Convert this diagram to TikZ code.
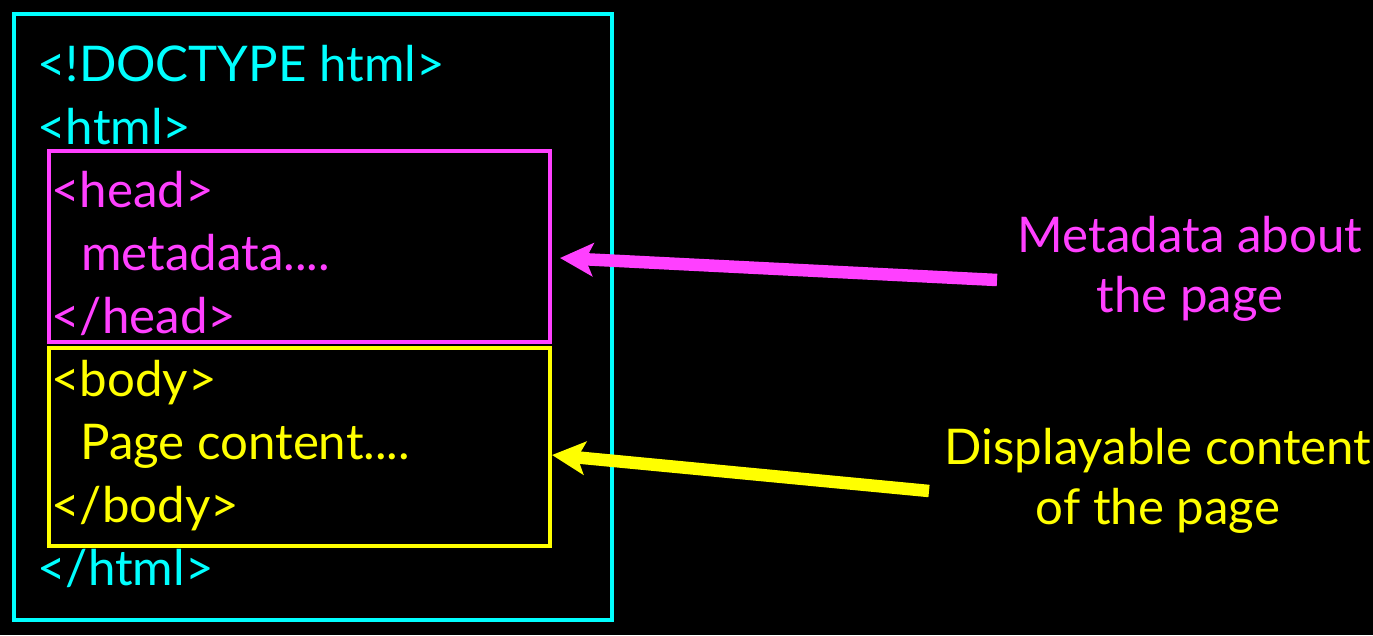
\documentclass[tikz,border=0pt]{standalone}
\usepackage{fontspec}
\setmainfont{Lato}
\usepackage{xcolor}
\usetikzlibrary{arrows.meta,positioning}
\definecolor{tagcyan}{RGB}{0,255,255}
\definecolor{tagpink}{RGB}{255,64,255}
\definecolor{tagyellow}{RGB}{255,255,0}
\begin{document}
\begin{tikzpicture}[
  tag/.style={anchor=base west,inner sep=0pt,font=\fontsize{28}{34}\selectfont},
  frame/.style={draw,rectangle,line width=0.07cm,inner sep=0pt},
  note/.style={anchor=north,align=center,inner sep=0pt,font=\fontsize{28}{34.5}\selectfont},
  edge/.style={-{Stealth[length=0.66cm,width=0.66cm,inset=0.15cm]},line width=0.25cm}]
\fill[black] (0,0) rectangle (27.46,-12.70);
\useasboundingbox (0,0) rectangle (27.46,-12.70);
% boxes
\node[frame,tagcyan,line width=0.08cm,minimum width=11.96cm,minimum height=12.12cm] (htmlbox) at (6.26,-6.34) {};
\node[frame,tagpink,minimum width=10.02cm,minimum height=3.82cm] (headbox) at (5.99,-4.93) {};
\node[frame,tagyellow,minimum width=10.02cm,minimum height=3.96cm] (bodybox) at (5.99,-8.94) {};
% markup lines
\node[tag,tagcyan] (doctype) at (0.74,-1.62) {<!DOCTYPE html>};
\node[tag,tagcyan] (htmlopen) at (0.74,-2.88) {<html>};
\node[tag,tagpink] (headopen) at (1.02,-4.14) {<head>};
\node[tag,tagpink] (metadata) at (1.62,-5.40) {metadata....};
\node[tag,tagpink] (headclose) at (1.02,-6.66) {</head>};
\node[tag,tagyellow] (bodyopen) at (1.02,-7.92) {<body>};
\node[tag,tagyellow] (content) at (1.60,-9.18) {Page content....};
\node[tag,tagyellow] (bodyclose) at (1.02,-10.44) {</body>};
\node[tag,tagcyan] (htmlclose) at (0.74,-11.70) {</html>};
% notes
\node[note,tagpink] (metanote) at (23.80,-4.31) {Metadata about\\the page};
\node[note,tagyellow] (bodynote) at (23.16,-8.55) {Displayable content\\of the page};
\coordinate (metatail) at (19.94,-5.60);
\coordinate (metatip) at (11.20,-5.16);
\coordinate (bodytail) at (18.58,-9.82);
\coordinate (bodytip) at (11.04,-9.10);
\draw[edge,tagpink] (metatail) -- (metatip);
\draw[edge,tagyellow] (bodytail) -- (bodytip);
\end{tikzpicture}
\end{document}
